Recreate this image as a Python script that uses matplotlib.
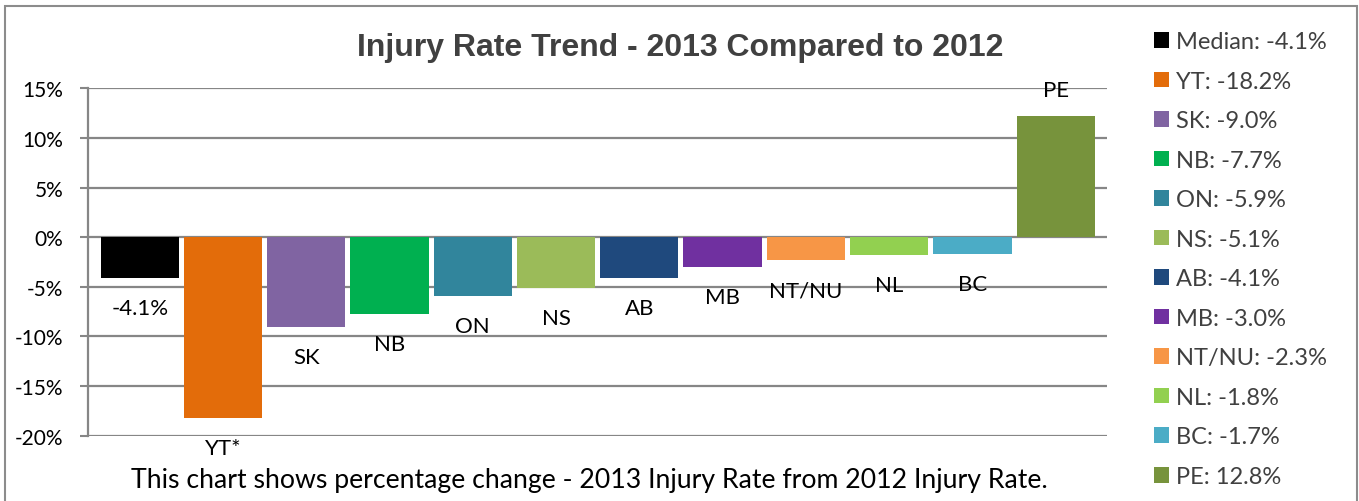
import matplotlib.pyplot as plt
from matplotlib.patches import Rectangle

# data
labels = ['Median', 'YT*', 'SK', 'NB', 'ON', 'NS', 'AB', 'MB', 'NT/NU', 'NL', 'BC', 'PE']
values = [-4.1, -18.2, -9.0, -7.7, -5.9, -5.1, -4.1, -3.0, -2.3, -1.8, -1.7, 12.2]
bar_text = ['-4.1%', 'YT*', 'SK', 'NB', 'ON', 'NS', 'AB', 'MB', 'NT/NU', 'NL', 'BC', 'PE']
legend_labels = ['Median: -4.1%', 'YT: -18.2%', 'SK: -9.0%', 'NB: -7.7%', 'ON: -5.9%',
                 'NS: -5.1%', 'AB: -4.1%', 'MB: -3.0%', 'NT/NU: -2.3%', 'NL: -1.8%',
                 'BC: -1.7%', 'PE: 12.8%']
colors = ['#000000', '#E36C0A', '#8064A2', '#00B050', '#31859C', '#9BBB59',
          '#1F497D', '#7030A0', '#F79646', '#92D050', '#4BACC6', '#77933C']
yticks = [-20, -15, -10, -5, 0, 5, 10, 15]

plt.rcParams['font.family'] = ['Lato', 'DejaVu Sans']

fig = plt.figure(figsize=(13.59, 5.02), dpi=100)
ax = fig.add_axes([0.0648, 0.130, 0.750, 0.692])

grid_c = '#868686'
handles = []
for i, (v, c, lab) in enumerate(zip(values, colors, legend_labels)):
    b = ax.bar(i, v, width=0.94, color=c, label=lab, zorder=3)
    handles.append(b)
    if v < 0:
        ax.annotate(bar_text[i], (i, v), xytext=(0, -20), textcoords='offset pixels',
                    ha='center', va='top', fontsize=16, color='black')
    else:
        ax.annotate(bar_text[i], (i, v), xytext=(0, 16), textcoords='offset pixels',
                    ha='center', va='bottom', fontsize=16, color='black')

pad = 10 / 83.2
ax.set_xlim(-0.5 - pad, len(values) - 0.5 + pad)
ax.set_ylim(-20, 15)
ax.set_yticks(yticks)
ax.set_yticklabels([f'{t}%' for t in yticks], fontsize=15)
ax.set_xticks([])
ax.grid(axis='y', color=grid_c, lw=1.6, zorder=0)
ax.tick_params(axis='y', length=6, width=1.5, color=grid_c, pad=12)
for s in ['top', 'right', 'bottom']:
    ax.spines[s].set_visible(False)
ax.spines['left'].set_color(grid_c)
ax.spines['left'].set_linewidth(1.6)

fig.text(0.5004, 0.905, 'Injury Rate Trend - 2013 Compared to 2012', ha='center', va='center',
         fontsize=23, fontweight='bold', color='#404040', family='Liberation Sans')
fig.text(0.434, 0.042, 'This chart shows percentage change - 2013 Injury Rate from 2012 Injury Rate.',
         ha='center', va='center', fontsize=19.2, color='black')

leg = fig.legend(handles=handles, loc='upper left', bbox_to_anchor=(0.849, 0.936),
                 frameon=False, fontsize=17, handlelength=0.64, handleheight=0.64,
                 handletextpad=0.3, labelspacing=0.785, borderaxespad=0, borderpad=0)
for t in leg.get_texts():
    t.set_color('#404040')

fig.patches.append(Rectangle((5 / 1359, -0.01), 1352 / 1359, 1 - 7 / 502 + 0.01,
                             transform=fig.transFigure, fill=False, edgecolor='#8c8c8c', lw=1.5))

fig.savefig('out.png', dpi=100)
